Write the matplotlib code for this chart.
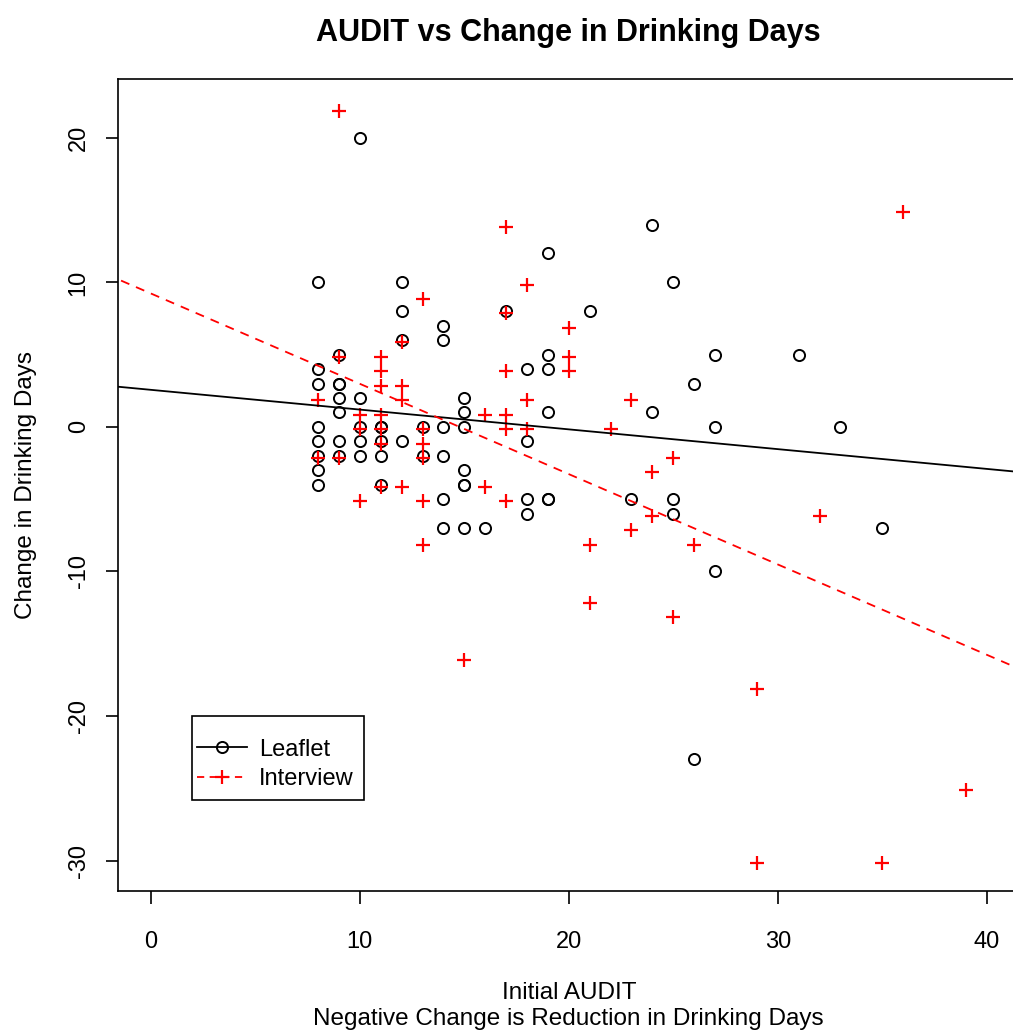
import numpy as np
import matplotlib
matplotlib.use("Agg")
import matplotlib.pyplot as plt
import matplotlib.patches as pat

plt.rcParams['font.family'] = ['Liberation Sans', 'DejaVu Sans']
plt.rcParams['axes.unicode_minus'] = False

# Leaflet group: initial AUDIT and change in drinking days
leaflet_audit = [8, 8, 8, 8, 8, 8, 8, 8,
                 9, 9, 9, 9, 9, 9, 9,
                 10, 10, 10, 10, 10,
                 11, 11, 11, 11, 11,
                 12, 12, 12, 12,
                 13, 13,
                 14, 14, 14, 14, 14, 14,
                 15, 15, 15, 15, 15, 15, 15,
                 16, 17,
                 18, 18, 18, 18,
                 19, 19, 19, 19, 19, 19,
                 21, 23, 24, 24, 25, 25, 25,
                 26, 26, 27, 27, 27, 31, 33, 35]
leaflet_change = [10, 4, 3, 0, -1, -2, -3, -4,
                  5, 3, 3, 2, 1, -1, -2,
                  20, 2, 0, -1, -2,
                  0, 0, -1, -2, -4,
                  10, 8, 6, -1,
                  0, -2,
                  7, 6, 0, -2, -5, -7,
                  2, 1, 0, -3, -4, -4, -7,
                  -7, 8,
                  4, -1, -5, -6,
                  12, 5, 4, 1, -5, -5,
                  8, -5, 14, 1, 10, -5, -6,
                  3, -23, 5, 0, -10, 5, 0, -7]

# Interview group
interview_audit = [9, 17, 36, 18, 13, 17, 20, 12, 9, 11, 20, 11, 17, 20,
                   11, 12, 8, 12, 18, 23, 10, 11, 16, 17, 10, 11, 13, 17,
                   18, 22, 11, 13, 8, 9, 13, 25, 24, 11, 12, 16, 10, 13,
                   17, 24, 32, 23, 13, 21, 26, 21, 25, 15, 29, 39, 29, 35]
interview_change = [22, 14, 15, 10, 9, 8, 7, 6, 5, 5, 5, 4, 4, 4,
                    3, 3, 2, 2, 2, 2, 1, 1, 1, 1, 0, 0, 0, 0,
                    0, 0, -1, -1, -2, -2, -2, -2, -3, -4, -4, -4, -5, -5,
                    -5, -6, -6, -7, -8, -8, -8, -12, -13, -16, -18, -25, -30, -30]

lx = np.array(leaflet_audit, dtype=float)
ly = np.array(leaflet_change, dtype=float)
ix = np.array(interview_audit, dtype=float)
iy = np.array(interview_change, dtype=float)

fig = plt.figure(figsize=(10.13, 10.34), dpi=100)
ax = fig.add_axes([0.116, 0.1387, 0.891, 0.785])

ax.plot(lx, ly, linestyle='none', marker='o', markersize=8, markerfacecolor='none',
        markeredgecolor='black', markeredgewidth=1.4)
ax.plot(ix, iy - 0.15, linestyle='none', marker='+', markersize=10,
        markeredgecolor='red', markeredgewidth=1.6)

# least squares lines for each group
xs = np.array([-5, 45])
b1 = np.polyfit(lx, ly, 1)
b2 = np.polyfit(ix, iy, 1)
ax.plot(xs, np.polyval(b1, xs), color='black', lw=1.3, label='_none')
ax.plot(xs, np.polyval(b2, xs), color='red', lw=1.3, linestyle=(0, (5, 4)), label='_none')

ax.plot([], [], color='black', lw=1.3, marker='o', markersize=8, markerfacecolor='none',
        markeredgewidth=1.4, label='Leaflet')
ax.plot([], [], color='red', lw=1.3, linestyle=(0, (4, 3)), marker='+', markersize=10,
        markeredgewidth=1.6, label='Interview')

ax.set_xlim(-1.6, 41.6)
ax.set_ylim(-32.08, 24.08)
ax.set_xticks([0, 10, 20, 30, 40])
ax.set_yticks([-30, -20, -10, 0, 10, 20])
ax.tick_params(direction='out', length=9, width=1.2, labelsize=17)
ax.tick_params(axis='x', pad=20)
ax.tick_params(axis='y', pad=11)
for lab in ax.get_yticklabels():
    lab.set_rotation(90)
    lab.set_verticalalignment('center')
for s in ax.spines.values():
    s.set_linewidth(1.2)

ax.set_title("AUDIT vs Change in Drinking Days", fontsize=22, fontweight='bold', pad=27)
ax.set_xlabel("Initial AUDIT\nNegative Change is Reduction in Drinking Days", fontsize=17.5,
              labelpad=21, linespacing=1.25)
ax.set_ylabel("Change in Drinking Days", fontsize=17.5, labelpad=22)

# legend box drawn as a plain rectangle, entries without frame
box = pat.Rectangle((0.0824, 0.1116), 0.1905, 0.1035, transform=ax.transAxes,
                    facecolor='white', edgecolor='black', lw=1.2, zorder=4)
ax.add_patch(box)
leg = ax.legend(loc='center left', bbox_to_anchor=(0.088, 0.1553), borderaxespad=0,
                borderpad=0, fontsize=17, frameon=False, handlelength=2.12,
                handletextpad=0.5, labelspacing=0.32)
leg.set_zorder(5)

plt.savefig('out.png', dpi=100)
